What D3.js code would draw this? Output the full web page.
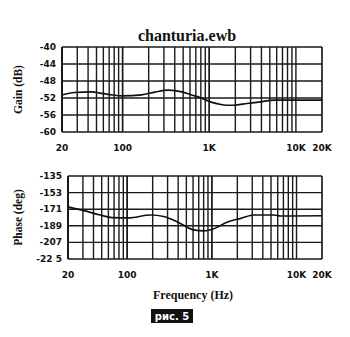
<!DOCTYPE html>
<html>
<head>
<meta charset="utf-8">
<script src="https://cdn.jsdelivr.net/npm/d3@7"></script>
<style>
  html, body { margin: 0; padding: 0; background: #fff; }
  svg { display: block; }
  .tick-lbl { font-family: "DejaVu Sans", sans-serif; font-weight: bold; font-size: 9px; fill: #111; }
  .serif { font-family: "Liberation Serif", "Times New Roman", serif; font-weight: bold; fill: #111; }
</style>
</head>
<body>
<svg id="chart" width="350" height="337"></svg>
<script>
// Frequency response of chanturia.ewb: gain and phase vs frequency

const freqTicks = [20, 100, 1000, 10000, 20000];
const freqTickLabels = ["20", "100", "1K", "10K", "20K"];

const gainTicks = [-40, -44, -48, -52, -56, -60];
const phaseTicks = [-135, -153, -171, -189, -207, -225];
const phaseTickLabels = ["-135", "-153", "-171", "-189", "-207", "-22 5"];

const gainFreq = [20, 28, 44, 57, 77, 98, 166, 236, 337, 483, 630, 787, 1030, 1300, 1600, 1900, 2740, 3900, 5550, 10000, 20000];
const gainDb   = [-51.3, -50.7, -50.55, -50.9, -51.3, -51.5, -51.25, -50.6, -50.15, -50.55, -51.3, -51.9, -52.9, -53.45, -53.7, -53.7, -53.3, -52.9, -52.5, -52.5, -52.5];

const phaseFreq = [20, 31, 48, 69, 103, 189, 270, 392, 610, 803, 1020, 1530, 2200, 3160, 5400, 6500, 20000];
const phaseDeg  = [-168.4, -172.5, -177.3, -180.2, -180.5, -177.3, -178.9, -184.8, -193.4, -194.5, -192.7, -184.8, -180.9, -177.3, -177.3, -178.4, -178.1];

// vertical grid frequencies: 2..9 x each decade from 20 Hz up to 10 kHz
const gridFreq = [];
for (const dec of [10, 100, 1000]) {
  for (let m = 1; m <= 10; m++) {
    const f = dec * m;
    if (f >= 20 && f <= 10000) gridFreq.push(f);
  }
}

const svg = d3.select("#chart");

function panel(opts) {
  const x = d3.scaleLog().domain([20, 20000]).range([opts.x0, opts.x1]);
  const y = d3.scaleLinear().domain([opts.ticks[opts.ticks.length - 1], opts.ticks[0]]).range([opts.y1, opts.y0]);
  const g = svg.append("g");

  // vertical grid
  g.selectAll("line.vg").data(gridFreq).enter().append("line")
    .attr("x1", d => x(d)).attr("x2", d => x(d))
    .attr("y1", opts.y0).attr("y2", opts.y1)
    .attr("stroke", "#1a1a1a").attr("stroke-width", 1.4);

  // horizontal grid
  g.selectAll("line.hg").data(opts.ticks).enter().append("line")
    .attr("x1", opts.x0).attr("x2", opts.x1)
    .attr("y1", d => y(d)).attr("y2", d => y(d))
    .attr("stroke", "#1a1a1a").attr("stroke-width", 1.4);

  // frame left / right
  g.append("line").attr("x1", opts.x0).attr("x2", opts.x0).attr("y1", opts.y0).attr("y2", opts.y1)
    .attr("stroke", "#111").attr("stroke-width", 1.8);
  g.append("line").attr("x1", opts.x1).attr("x2", opts.x1).attr("y1", opts.y0).attr("y2", opts.y1)
    .attr("stroke", "#111").attr("stroke-width", 1.6);

  // y tick labels
  g.selectAll("text.yl").data(opts.ticks).enter().append("text")
    .attr("class", "tick-lbl")
    .attr("x", opts.x0 - 6).attr("y", d => y(d) + 3)
    .attr("text-anchor", "end")
    .text((d, i) => opts.tickLabels[i]);

  // x tick labels
  g.selectAll("text.xl").data(freqTicks).enter().append("text")
    .attr("class", "tick-lbl")
    .attr("x", d => x(d)).attr("y", opts.y1 + 19)
    .attr("text-anchor", "middle")
    .text((d, i) => freqTickLabels[i]);

  // y axis title
  g.append("text").attr("class", "serif")
    .attr("font-size", 11.5)
    .attr("transform", `translate(${opts.titleX},${(opts.y0 + opts.y1) / 2}) rotate(-90)`)
    .attr("text-anchor", "middle")
    .text(opts.title);

  // response curve
  const line = d3.line().x(d => x(d[0])).y(d => y(d[1])).curve(d3.curveMonotoneX);
  g.append("path")
    .datum(opts.freq.map((f, i) => [f, opts.vals[i]]))
    .attr("d", line)
    .attr("fill", "none").attr("stroke", "#111").attr("stroke-width", 1.7);
}

panel({ x0: 62, x1: 322, y0: 47, y1: 132, ticks: gainTicks, tickLabels: gainTicks.map(String),
        title: "Gain (dB)", titleX: 22, freq: gainFreq, vals: gainDb });

panel({ x0: 68, x1: 322, y0: 176, y1: 259, ticks: phaseTicks, tickLabels: phaseTickLabels,
        title: "Phase (deg)", titleX: 22, freq: phaseFreq, vals: phaseDeg });

// title
svg.append("text").attr("class", "serif")
  .attr("x", 187).attr("y", 41).attr("font-size", 16)
  .attr("text-anchor", "middle").text("chanturia.ewb");

// x axis title
svg.append("text").attr("class", "serif")
  .attr("x", 193).attr("y", 299).attr("font-size", 12)
  .attr("text-anchor", "middle").text("Frequency (Hz)");

// figure caption badge
svg.append("rect").attr("x", 151).attr("y", 309).attr("width", 42).attr("height", 14).attr("fill", "#111");
svg.append("text").attr("x", 172).attr("y", 320)
  .attr("text-anchor", "middle")
  .attr("font-family", "DejaVu Sans, sans-serif").attr("font-weight", "bold").attr("font-size", 10)
  .attr("fill", "#fff").text("рис. 5");
</script>
</body>
</html>
